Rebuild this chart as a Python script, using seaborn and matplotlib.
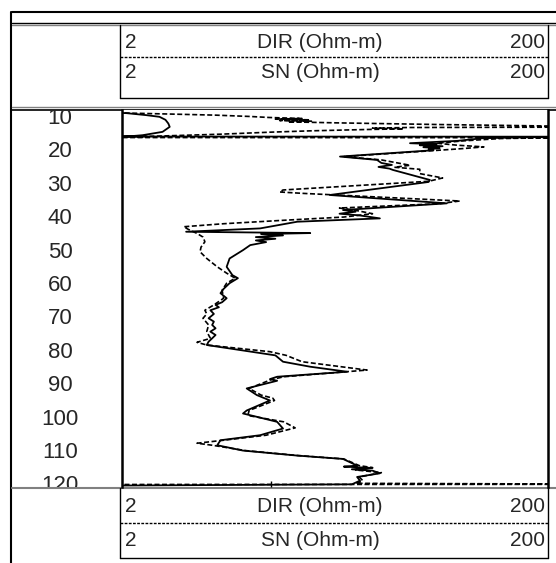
import numpy as np
import pandas as pd
import matplotlib
matplotlib.use("Agg")
import matplotlib.pyplot as plt
import seaborn as sns

sn_depth = [8.3, 8.4, 9.0, 9.5, 10.4, 11.5, 12.5, 14.0, 15.0, 15.3, 15.4, 15.45,
            15.9, 16.7, 17.4, 17.7, 18.0, 18.3, 18.6, 18.9, 19.2, 19.5, 21.4, 22.4,
            23.3, 23.9, 24.5, 25.0, 25.4, 28.4, 29.0, 32.9, 35.4, 37.4, 37.9, 38.5,
            39.0, 39.9, 40.9, 42.9, 43.9, 44.3, 44.6, 45.0, 45.5, 46.0, 46.5, 47.0,
            47.9, 49.4, 51.9, 54.4, 56.9, 57.8, 59.3, 61.0, 62.3, 63.8, 65.0, 65.8,
            66.5, 67.4, 68.5, 69.8, 70.8, 71.8, 72.8, 73.8, 74.8, 75.8, 76.8, 77.8,
            80.9, 82.8, 84.3, 85.8, 87.3, 88.0, 88.5, 90.8, 92.8, 94.4, 97.4, 98.3,
            99.3, 100.8, 102.8, 104.8, 106.3, 107.8, 109.4, 110.9, 111.9, 113.9, 114.2,
            114.6, 115.0, 115.4, 116.2, 117.3, 118.4, 119.5, 119.9]
sn_vals = [1.9, 2.1, 2.6, 3.0, 3.2, 3.3, 3.35, 3.1, 2.5, 2.2, 1.9, 220,
           99, 75, 45, 60, 50, 64, 52, 62, 55, 58, 21.1, 31.5,
           33, 37, 32, 36, 37.4, 55.8, 55, 18.9, 67, 21.8, 25, 21,
           26, 32.5, 13.3, 8.9, 4.0, 15.3, 9.0, 11.4, 8.5, 10.5, 8.5, 9.5,
           8.0, 7.4, 6.4, 6.2, 6.6, 7.0, 6.4, 6.0, 5.8, 6.2, 5.9, 5.5,
           5.7, 5.2, 5.4, 5.1, 5.4, 5.3, 5.5, 5.2, 5.5, 5.3, 5.1, 5.0,
           10.5, 11.4, 15.3, 22.8, 10.7, 9.9, 10.7, 7.7, 8.6, 9.9, 7.7, 7.4,
           8.6, 10.7, 11.4, 8.9, 5.8, 5.6, 7.4, 13.3, 21.8, 25.4, 22,
           30, 24, 30, 32.5, 25.4, 26.2, 24, 1.5]

dir_depth = [8.3, 8.4, 8.7, 9.0, 9.4, 9.7, 10.0, 10.2, 10.4, 10.6, 10.8, 11.0,
             11.3, 11.8, 12.3, 12.6, 12.7, 12.9, 13.1, 13.3, 13.7, 14.1, 14.7, 15.6,
             15.7, 15.75, 16.0, 16.7, 17.4, 18.0, 18.5, 19.0, 19.4, 21.4, 22.4, 24.0,
             24.6, 25.2, 26.5, 27.8, 28.8, 31.4, 32.0, 32.4, 34.7, 35.5, 36.8, 37.5,
             38.5, 39.5, 40.4, 41.5, 42.4, 43.2, 44.4, 45.5, 46.9, 48.5, 49.9, 51.9,
             54.4, 56.3, 57.8, 59.3, 61.4, 63.8, 65.8, 67.4, 68.5, 69.8, 71.8, 73.8,
             75.8, 77.0, 77.8, 79.8, 80.9, 82.8, 85.3, 87.3, 88.2, 90.8, 92.8, 93.7,
             94.4, 97.4, 98.9, 100.8, 102.6, 104.8, 106.3, 107.2, 107.8, 109.4, 110.9,
             111.9, 113.9, 114.5, 115.2, 116.0, 117.3, 118.4, 119.2, 119.4, 119.5, 119.55]
dir_vals = [1.9, 2.2, 3.5, 5.5, 8.0, 9.8, 14, 10.5, 15, 11, 15.5, 12,
            20, 60, 230, 230, 44, 30, 42, 28, 15.3, 9.9, 5.8, 2.0,
            1.8, 220, 120, 80, 60, 75, 100, 80, 65, 22, 33, 45,
            38, 50, 50, 64, 55, 11.4, 11.0, 14, 77, 62, 21, 25,
            30, 22, 12, 6, 3.9, 4.1, 4.5, 4.8, 4.9, 4.7, 4.65, 5.0,
            5.6, 6.2, 6.8, 6.2, 5.9, 6.0, 5.4, 4.9, 5.0, 4.8, 5.1, 5.0,
            5.2, 4.5, 5.0, 9.9, 11.8, 14, 28.3, 11.5, 10, 7.9, 9.0, 10.2,
            10.4, 7.9, 7.8, 11.5, 13.0, 9.5, 6.0, 4.5, 5.3, 7.6, 13.5,
            22, 26, 30, 25, 33, 26, 27, 25, 230, 230, 1.8]

depth_ticks = [10, 20, 30, 40, 50, 60, 70, 80, 90, 100, 110, 120]
curve_names = ["DIR (Ohm-m)", "SN (Ohm-m)"]
scale_min, scale_max = 2, 200
top_depth, bottom_depth = 7.46, 120.3

sns.set_theme(style="white")
plt.rcParams["font.family"] = ["Liberation Sans", "DejaVu Sans"]

W, H = 556, 563
fig = plt.figure(figsize=(W / 100, H / 100), dpi=100)


def px_axes(x0, y0, x1, y1):
    return fig.add_axes([x0 / W, 1 - y1 / H, (x1 - x0) / W, (y1 - y0) / H])


# frame / header drawn in pixel space
frame = px_axes(0, 0, W, H)
frame.set_xlim(0, W)
frame.set_ylim(H, 0)
frame.axis("off")
grey = "#808080"
frame.plot([12, W], [12, 12], color="black", lw=1.5)
frame.plot([12, W], [22.5, 22.5], color="black", lw=1)
frame.plot([12, W], [25, 25], color=grey, lw=1)
frame.plot([11, 11], [12, H], color="black", lw=1.5)
frame.plot([12, W], [107, 107], color=grey, lw=1)
frame.plot([12, W], [109.5, 109.5], color="black", lw=1.2)
frame.plot([12, W], [487.5, 487.5], color=grey, lw=1.5)

# (box top, separator, box bottom, row centres)
boxes = [(25, 57, 98, (43, 73)), (488, 523, 558, (506, 540))]
for top, mid, bot, rows in boxes:
    frame.plot([120, 120], [top, bot], color="black", lw=1)
    frame.plot([548, 548], [top, bot], color="black", lw=1)
    frame.plot([120, 548], [mid, mid], color="black", lw=1, ls=(0, (2, 1)))
    frame.plot([120, 548], [bot, bot], color="black", lw=1)
    for name, ry in zip(curve_names, rows):
        frame.text(125, ry, str(scale_min), ha="left", va="center", fontsize=15)
        frame.text(320, ry, name, ha="center", va="center", fontsize=15)
        frame.text(545, ry, str(scale_max), ha="right", va="center", fontsize=15)

# depth column
dax = px_axes(12, 110, 121, 487)
dax.set_ylim(bottom_depth, top_depth)
dax.set_xlim(0, 1)
dax.axis("off")
for d in depth_ticks:
    dax.text(0.44, d, str(d), ha="center", va="center", fontsize=16, clip_on=True)

# log track
ax = px_axes(122, 110, 548, 487)
ax.set_facecolor("white")
sn_df = pd.DataFrame({"depth": sn_depth, "res": sn_vals})
dir_df = pd.DataFrame({"depth": dir_depth, "res": dir_vals})
sns.lineplot(data=sn_df, x="res", y="depth", sort=False, estimator=None,
             orient="y", color="black", lw=1.3, ax=ax)
sns.lineplot(data=dir_df, x="res", y="depth", sort=False, estimator=None,
             orient="y", color="black", lw=1.2, ls=(0, (3, 1.5)), ax=ax)
ax.set_xscale("log")
ax.set_xlim(scale_min, scale_max)
ax.set_ylim(bottom_depth, top_depth)
ax.set_xlabel("")
ax.set_ylabel("")
ax.set_xticks([10])
ax.set_xticklabels([])
ax.minorticks_off()
ax.set_yticks([])
ax.tick_params(axis="x", direction="in", length=4, width=1, bottom=True, colors="black")
for side in ["top", "bottom"]:
    ax.spines[side].set_visible(False)
for side in ["left", "right"]:
    ax.spines[side].set_visible(True)
    ax.spines[side].set_color("black")
    ax.spines[side].set_linewidth(1.8)

fig.savefig("out.png", dpi=100)
